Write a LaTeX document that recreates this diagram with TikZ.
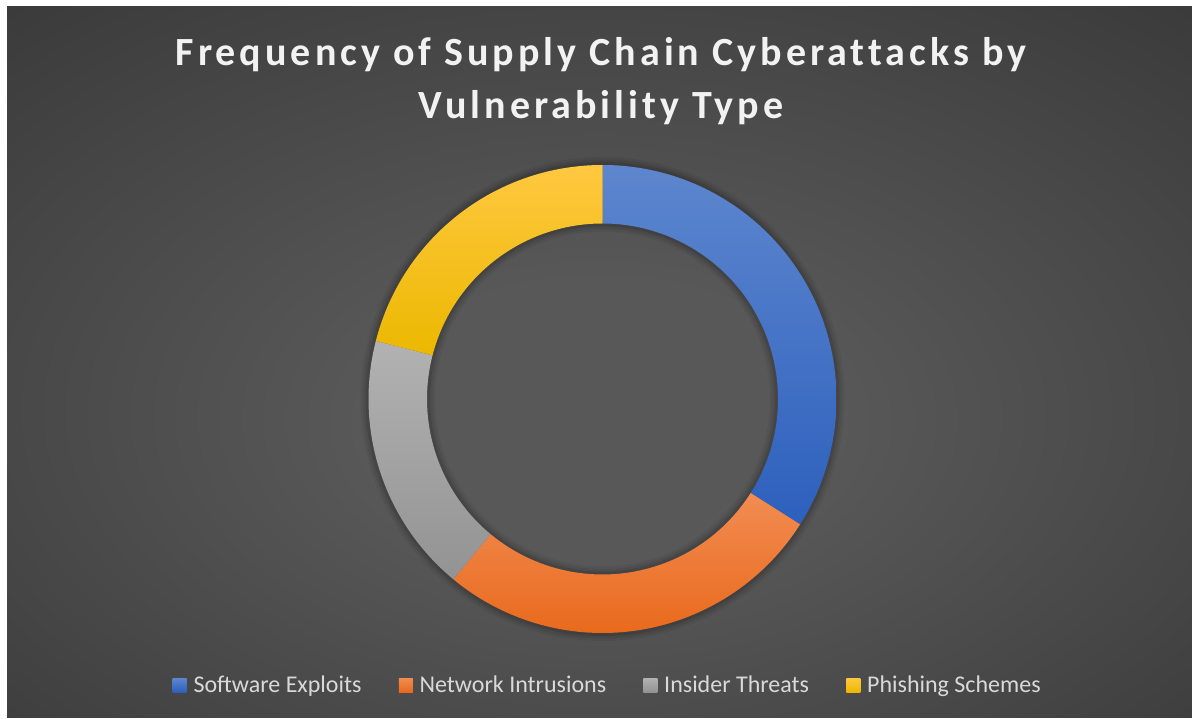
\documentclass[tikz,border=0pt]{standalone}
\usepackage{fontspec}
\setmainfont{Carlito}
\newfontfamily\headfont[LetterSpace=10, Ligatures=NoCommon]{Carlito}
\usetikzlibrary{positioning}

\definecolor{softTop}{HTML}{5D86CE}
\definecolor{softBot}{HTML}{2D60BD}
\definecolor{netTop}{HTML}{F28C52}
\definecolor{netBot}{HTML}{E8691B}
\definecolor{insTop}{HTML}{B2B2B2}
\definecolor{insBot}{HTML}{939393}
\definecolor{phiTop}{HTML}{FFC840}
\definecolor{phiBot}{HTML}{EBB800}
\definecolor{glowin}{HTML}{585858}
\definecolor{glowmid}{HTML}{3C3C3C}
\definecolor{glowout}{HTML}{252525}
\definecolor{keytext}{HTML}{D9D9D9}
\definecolor{headtext}{HTML}{F2F2F2}

\pgfdeclareradialshading{chartglow}{\pgfpoint{0bp}{-5bp}}{%
  color(0bp)=(glowin); color(10bp)=(glowin); color(36bp)=(glowmid); color(60bp)=(glowout); color(75bp)=(glowout)}

\tikzset{
  charttitle/.style={text=headtext, inner sep=0pt, font=\headfont\bfseries\fontsize{40}{48}\selectfont},
  legendkey/.style={minimum size=14pt, inner sep=0pt, outer sep=0pt},
  legendtext/.style={text=keytext, inner sep=0pt, font=\fontsize{24}{29}\selectfont}
}

\begin{document}
\begin{tikzpicture}[x=1pt, y=1pt]
  \useasboundingbox (0,0) rectangle (1192,718);
  \fill[white] (0,0) rectangle (1192,718);
  \shade[shading=chartglow] (7,1) rectangle (1192,711);

  % soft shadow round the ring
  \begin{scope}[shift={(602.5,319)}]
    \foreach \w/\o in {16/0.05, 11/0.07, 6/0.1} {
      \draw[black, opacity=\o, line width=\w] (0,0) circle (234);
      \draw[black, opacity=\o, line width=\w] (0,0) circle (175.5);
    }
    % ring segments, clockwise from the top
    \shade[top color=softTop, bottom color=softBot] (90:234) arc[start angle=90, end angle=-32.4, radius=234]
      -- (-32.4:175.5) arc[start angle=-32.4, end angle=90, radius=175.5] -- cycle;
    \shade[top color=netTop, bottom color=netBot] (-32.4:234) arc[start angle=-32.4, end angle=-129.6, radius=234]
      -- (-129.6:175.5) arc[start angle=-129.6, end angle=-32.4, radius=175.5] -- cycle;
    \shade[top color=insTop, bottom color=insBot] (-129.6:234) arc[start angle=-129.6, end angle=-194.4, radius=234]
      -- (-194.4:175.5) arc[start angle=-194.4, end angle=-129.6, radius=175.5] -- cycle;
    \shade[top color=phiTop, bottom color=phiBot] (-194.4:234) arc[start angle=-194.4, end angle=-270, radius=234]
      -- (-270:175.5) arc[start angle=-270, end angle=-194.4, radius=175.5] -- cycle;
  \end{scope}

  % title
  \node[charttitle, anchor=base] (titleTop) at (601,652) {Frequency of Supply Chain Cyberattacks by};
  \node[charttitle, anchor=base] (titleBot) at (601,599) {Vulnerability Type};

  % legend
  \node[legendkey, top color=softTop, bottom color=softBot, anchor=south west] (keySoft) at (172.7,26) {};
  \node[legendtext, right=6.6pt of keySoft.south east, anchor=base west] (txtSoft) {Software Exploits};
  \node[legendkey, top color=netTop, bottom color=netBot, right=37pt of txtSoft.base east, anchor=south west] (keyNet) {};
  \node[legendtext, right=6.6pt of keyNet.south east, anchor=base west] (txtNet) {Network Intrusions};
  \node[legendkey, top color=insTop, bottom color=insBot, right=37pt of txtNet.base east, anchor=south west] (keyIns) {};
  \node[legendtext, right=6.6pt of keyIns.south east, anchor=base west] (txtIns) {Insider Threats};
  \node[legendkey, top color=phiTop, bottom color=phiBot, right=37pt of txtIns.base east, anchor=south west] (keyPhi) {};
  \node[legendtext, right=6.6pt of keyPhi.south east, anchor=base west] (txtPhi) {Phishing Schemes};
\end{tikzpicture}
\end{document}
